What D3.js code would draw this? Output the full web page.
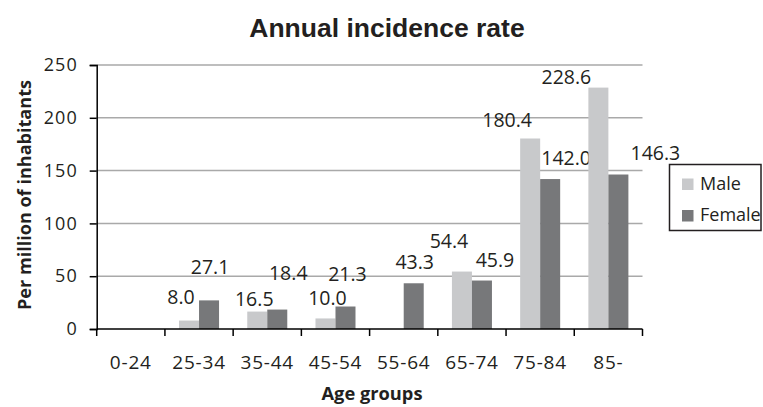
<!DOCTYPE html>
<html>
<head>
<meta charset="utf-8">
<script src="https://cdn.jsdelivr.net/npm/d3@7"></script>
<style>
  html, body { margin: 0; padding: 0; background: #fff; }
  svg { display: block; }
  text { fill: #231f20; }
</style>
</head>
<body>
<script>
// Age groups and annual incidence per million inhabitants
const ageGroups = ["0-24", "25-34", "35-44", "45-54", "55-64", "65-74", "75-84", "85-"];
const maleRates = [null, 8.0, 16.5, 10.0, null, 54.4, 180.4, 228.6];
const femaleRates = [null, 27.1, 18.4, 21.3, 43.3, 45.9, 142.0, 146.3];
const seriesNames = ["Male", "Female"];
const yTickValues = [0, 50, 100, 150, 200, 250];

// Hand-placed offsets of the value labels from the top centre of each bar
const maleLabelNudge = [null, [-8, -17], [-3, -6], [2, -13], null, [-13, -24], [-23, -11], [-32, -4]];
const femaleLabelNudge = [null, [1, -26], [11, -30], [2, -26], [1, -14], [13, -14], [16, -14], [37, -15]];

const W = 763, H = 407;
const plot = { left: 96.7, right: 642.5, top: 65, bottom: 329 };
const colors = { Male: "#c8c9cb", Female: "#77787a" };

const svg = d3.select("body").append("svg")
  .attr("width", W).attr("height", H);

const x0 = d3.scaleBand().domain(ageGroups).range([plot.left, plot.right]).padding(0);
const x1 = d3.scaleBand().domain(seriesNames).range([0, x0.bandwidth()])
  .paddingInner(0).paddingOuter(0.705);
const y = d3.scaleLinear().domain([0, 250]).range([plot.bottom, plot.top]);

// Horizontal gridlines
svg.append("g").selectAll("line")
  .data(yTickValues.filter(v => v > 0))
  .join("line")
  .attr("x1", plot.left).attr("x2", plot.right)
  .attr("y1", d => y(d)).attr("y2", d => y(d))
  .attr("stroke", "#a9a9a9").attr("stroke-width", 1.5);

// Bars
const rows = ageGroups.map((g, i) => ({
  group: g,
  values: [
    { series: "Male", value: maleRates[i], nudge: maleLabelNudge[i] },
    { series: "Female", value: femaleRates[i], nudge: femaleLabelNudge[i] }
  ]
}));

const groups = svg.append("g").selectAll("g")
  .data(rows).join("g")
  .attr("transform", d => `translate(${x0(d.group)},0)`);

groups.selectAll("rect")
  .data(d => d.values.filter(v => v.value != null))
  .join("rect")
  .attr("x", d => x1(d.series))
  .attr("width", x1.bandwidth())
  .attr("y", d => y(d.value))
  .attr("height", d => y(0) - y(d.value))
  .attr("fill", d => colors[d.series]);

// Value labels
groups.selectAll("text.value")
  .data(d => d.values.filter(v => v.value != null))
  .join("text")
  .attr("class", "value")
  .attr("x", d => x1(d.series) + x1.bandwidth() / 2 + d.nudge[0])
  .attr("y", d => y(d.value) + d.nudge[1])
  .attr("text-anchor", "middle")
  .style("font-family", "'Open Sans', sans-serif")
  .style("font-size", "19.5px")
  .text(d => d.value.toFixed(1));

// Y axis
const yAxis = d3.axisLeft(y).tickValues(yTickValues).tickSize(7).tickPadding(12).tickFormat(d3.format("d"));
const gy = svg.append("g").attr("transform", `translate(${plot.left},0)`).call(yAxis);
gy.select(".domain").attr("stroke", "#000").attr("stroke-width", 1.5);
gy.selectAll(".tick line").attr("stroke", "#000").attr("stroke-width", 1.5);
gy.selectAll(".tick text")
  .style("font-family", "'Open Sans', sans-serif")
  .style("font-size", "18px")
  .style("letter-spacing", "1px")
  .attr("fill", "#231f20");

// X axis: ticks at category boundaries
svg.append("line")
  .attr("x1", plot.left).attr("x2", plot.right)
  .attr("y1", y(0)).attr("y2", y(0))
  .attr("stroke", "#000").attr("stroke-width", 1.5);
const boundaries = ageGroups.map(g => x0(g)).concat([x0(ageGroups[ageGroups.length - 1]) + x0.bandwidth()]);
svg.append("g").selectAll("line")
  .data(boundaries).join("line")
  .attr("x1", d => d).attr("x2", d => d)
  .attr("y1", y(0)).attr("y2", y(0) + 7)
  .attr("stroke", "#000").attr("stroke-width", 1.5);
svg.append("g").selectAll("text")
  .data(ageGroups).join("text")
  .attr("x", d => x0(d) + x0.bandwidth() / 2)
  .attr("y", 368.5)
  .attr("text-anchor", "middle")
  .style("font-family", "'Open Sans', sans-serif")
  .style("font-size", "19px")
  .style("letter-spacing", "0.8px")
  .text(d => d);

// Titles
svg.append("text")
  .attr("x", 387).attr("y", 36.7)
  .attr("text-anchor", "middle")
  .style("font-family", "'Liberation Sans', Arial, sans-serif")
  .style("font-weight", "bold")
  .style("font-size", "26.5px")
  .text("Annual incidence rate");

svg.append("text")
  .attr("x", 372).attr("y", 400)
  .attr("text-anchor", "middle")
  .attr("textLength", 101).attr("lengthAdjust", "spacingAndGlyphs")
  .style("font-family", "'Open Sans', sans-serif")
  .style("font-weight", "bold")
  .style("font-size", "18px")
  .text("Age groups");

svg.append("text")
  .attr("transform", `translate(31,195) rotate(-90)`)
  .attr("text-anchor", "middle")
  .attr("textLength", 230).attr("lengthAdjust", "spacingAndGlyphs")
  .style("font-family", "'Open Sans', sans-serif")
  .style("font-weight", "bold")
  .style("font-size", "17.5px")
  .text("Per million of inhabitants");

// Legend
const legend = svg.append("g");
legend.append("rect")
  .attr("x", 669.5).attr("y", 164.5).attr("width", 91.5).attr("height", 66)
  .attr("fill", "#fff").attr("stroke", "#231f20").attr("stroke-width", 1.5);
const items = legend.selectAll("g").data(seriesNames).join("g")
  .attr("transform", (d, i) => `translate(682,${178.5 + i * 31.5})`);
items.append("rect")
  .attr("width", 11.5).attr("height", 11.5)
  .attr("fill", d => colors[d]);
items.append("text")
  .attr("x", 18).attr("y", 11)
  .style("font-family", "'Open Sans', sans-serif")
  .style("font-size", "18px")
  .text(d => d);
</script>
</body>
</html>
